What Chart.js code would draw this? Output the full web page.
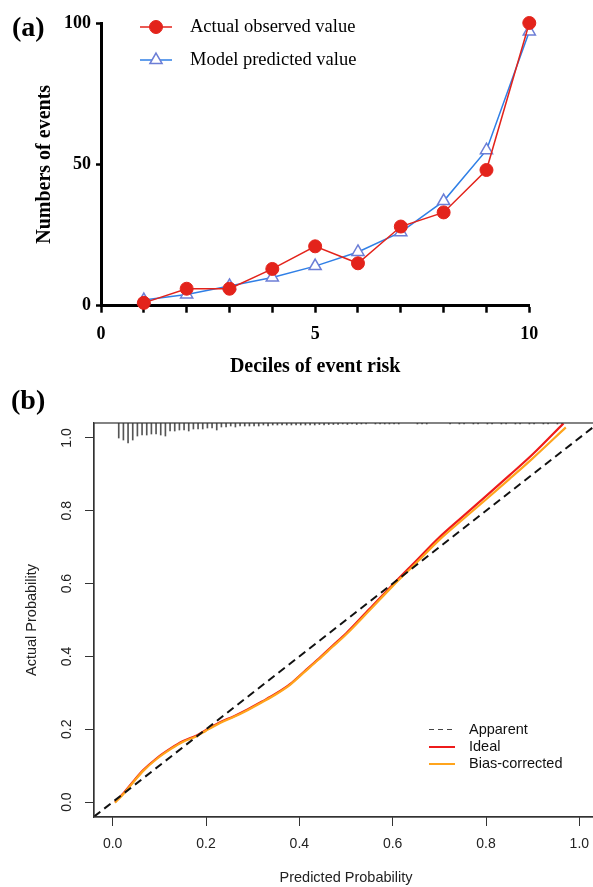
<!DOCTYPE html>
<html><head><meta charset="utf-8">
<script src="https://cdn.jsdelivr.net/npm/chart.js@4.4.1/dist/chart.umd.min.js"></script>
<style>
html,body{margin:0;padding:0;background:#fff;width:593px;height:887px;overflow:hidden;position:relative;}
canvas{position:absolute;left:0;}
.panel{position:absolute;font-family:'Liberation Serif','Times New Roman',serif;font-weight:bold;font-size:28px;line-height:32px;color:#000;}
</style></head><body>
<canvas id="cA" width="593" height="380" style="top:0"></canvas>
<canvas id="cB" width="620" height="507" style="top:380px"></canvas>
<div class="panel" style="left:12px;top:11px">(a)</div>
<div class="panel" style="left:11px;top:384px">(b)</div>
<script>
// ---------- Panel (a) data ----------
const deciles   = [1, 2, 3, 4, 5, 6, 7, 8, 9, 10];
const observed  = [1, 6, 6, 13, 21, 15, 28, 33, 48, 100];
const predicted = [2, 4, 7, 10, 14, 19, 26, 37, 55, 97];
const xTicksA   = [0, 1, 2, 3, 4, 5, 6, 7, 8, 9, 10];
const xLabelsA  = ['0', '', '', '', '', '5', '', '', '', '', '10'];
const yTicksA   = [0, 50, 100];

// ---------- Panel (b) data ----------
const idealX = [0.005,0.025,0.045,0.065,0.095,0.125,0.15,0.18,0.2,0.23,0.26,0.29,0.32,0.35,0.38,0.41,0.44,0.47,0.5,0.55,0.6,0.65,0.7,0.75,0.8,0.85,0.9,0.966];
const idealY = [0.0,0.027,0.058,0.087,0.121,0.148,0.167,0.183,0.198,0.219,0.236,0.255,0.276,0.298,0.324,0.358,0.392,0.428,0.463,0.53,0.597,0.662,0.727,0.784,0.84,0.897,0.955,1.04];
const biasX  = [0.005,0.025,0.045,0.065,0.095,0.125,0.15,0.18,0.2,0.23,0.26,0.29,0.32,0.35,0.38,0.41,0.44,0.47,0.5,0.55,0.6,0.65,0.7,0.75,0.8,0.85,0.9,0.971];
const biasY  = [-0.002,0.025,0.056,0.085,0.119,0.146,0.165,0.181,0.196,0.217,0.234,0.253,0.274,0.296,0.322,0.356,0.39,0.425,0.46,0.526,0.593,0.656,0.72,0.776,0.831,0.887,0.944,1.029];
const apparentX = [-0.04, 1.04];
const apparentY = [-0.04, 1.04];
const rugX = [0.013,0.023,0.033,0.043,0.053,0.063,0.073,0.083,0.093,0.103,0.113,0.123,0.133,0.143,0.153,0.163,0.173,0.183,0.193,0.203,0.213,0.223,0.233,0.243,0.253,0.263,0.273,0.283,0.293,0.303,0.313,0.323,0.333,0.343,0.353,0.363,0.373,0.383,0.393,0.403,0.413,0.423,0.433,0.443,0.453,0.463,0.473,0.483,0.493,0.503,0.513,0.523,0.533,0.543,0.563,0.573,0.583,0.593,0.603,0.613,0.653,0.663,0.673,0.723,0.743,0.753,0.773,0.783,0.803,0.813,0.833,0.843,0.863,0.873,0.893,0.903,0.923,0.933,0.953,0.963];
const rugFreq = [15,17,20,17,13,12,12,11,11,12,13,8,8,7,7,8,6,6,6,5,5,7,4,4,3,4,3,3,3,3,3,2,3,2,2,2,2,2,2,2,2,2,2,1.5,2,1.5,1.5,1.5,1,1.5,1,1.5,1,1,1,1,1,1,1,1,1,1,1,1,1,1,1,1,1,1,1,1,1,1,1,1,1,1,1,1];
const probTicks = [0, 0.2, 0.4, 0.6, 0.8, 1.0];

const serif = "'Liberation Serif','Times New Roman',serif";
const sans  = "'Liberation Sans',Arial,sans-serif";

// ---------- Panel (a) ----------
const legendA = {
  id: 'legendA',
  afterDatasetsDraw(chart) {
    const ctx = chart.ctx;
    const rows = [27, 60];
    chart.data.datasets.forEach((ds, i) => {
      const y = rows[i];
      ctx.save();
      ctx.strokeStyle = ds.borderColor; ctx.lineWidth = ds.borderWidth;
      ctx.beginPath(); ctx.moveTo(140, y); ctx.lineTo(172, y); ctx.stroke();
      ctx.fillStyle = ds.pointBackgroundColor; ctx.strokeStyle = ds.pointBorderColor; ctx.lineWidth = ds.pointBorderWidth;
      Chart.helpers.drawPoint(ctx, {pointStyle: ds.pointStyle, radius: ds.pointRadius, rotation: 0, borderWidth: ds.pointBorderWidth}, 156, y);
      ctx.fillStyle = '#000'; ctx.font = "18.5px " + serif; ctx.textBaseline = 'middle'; ctx.textAlign = 'left';
      ctx.fillText(ds.label, 190, y);
      ctx.restore();
    });
  }
};

new Chart(document.getElementById('cA'), {
  type: 'line',
  data: { datasets: [
    { label: 'Actual observed value', data: deciles.map((d, i) => ({x: d, y: observed[i]})),
      borderColor: '#e3231b', backgroundColor: '#e3231b', borderWidth: 1.5, tension: 0,
      pointStyle: 'circle', pointRadius: 6.5, pointBackgroundColor: '#e3231b', pointBorderColor: '#e3231b', pointBorderWidth: 1, clip: false },
    { label: 'Model predicted value', data: deciles.map((d, i) => ({x: d, y: predicted[i]})),
      borderColor: '#2f7fe6', backgroundColor: '#ffffff', borderWidth: 1.5, tension: 0,
      pointStyle: 'triangle', pointRadius: 7, pointBackgroundColor: '#ffffff', pointBorderColor: '#6c7ed6', pointBorderWidth: 1.5, clip: false }
  ]},
  options: {
    responsive: false, animation: false, events: [],
    layout: { padding: { left: 0, top: 23, right: 63.7, bottom: 0 } },
    plugins: { legend: { display: false }, tooltip: { enabled: false } },
    scales: {
      x: { type: 'linear', min: 0, max: 10, offset: false,
        afterBuildTicks: s => { s.ticks = xTicksA.map(v => ({value: v})); },
        afterFit: s => { s.height = 74.3; },
        grid: { offset: false, drawOnChartArea: false, drawTicks: true, tickLength: 7, tickWidth: 2.5, tickColor: '#000' },
        border: { display: true, width: 3, color: '#000' },
        ticks: { autoSkip: false, maxRotation: 0, padding: 11, color: '#000', font: { family: serif, size: 18, weight: 'bold' },
          callback: v => xLabelsA[xTicksA.indexOf(v)] },
        title: { display: true, text: 'Deciles of event risk', color: '#000', font: { family: serif, size: 20, weight: 'bold' }, padding: { top: 0, bottom: 1 } }
      },
      y: { type: 'linear', min: 0, max: 100,
        afterBuildTicks: s => { s.ticks = yTicksA.map(v => ({value: v})); },
        afterFit: s => { s.width = 101; },
        grid: { drawOnChartArea: false, drawTicks: true, tickLength: 5, tickWidth: 2.5, tickColor: '#000' },
        border: { display: true, width: 3, color: '#000' },
        ticks: { padding: 5, color: '#000', font: { family: serif, size: 18, weight: 'bold' } },
        title: { display: true, text: 'Numbers of events', color: '#000', font: { family: serif, size: 20, weight: 'bold' }, padding: { top: 33, bottom: 0 } }
      }
    }
  },
  plugins: [legendA]
});

// ---------- Panel (b) ----------
const boxB = {
  id: 'boxB',
  afterDatasetsDraw(chart) {
    const {ctx, chartArea: a} = chart;
    ctx.save(); ctx.strokeStyle = '#333'; ctx.lineWidth = 1.2;
    ctx.strokeRect(a.left, a.top, a.right - a.left, a.bottom - a.top);
    ctx.restore();
  }
};
const legendB = {
  id: 'legendB',
  afterDraw(chart) {
    const ctx = chart.ctx;
    const items = [
      { text: 'Apparent', ds: 0, y: 349.5, dash: [5, 4], w: 1 },
      { text: 'Ideal', ds: 2, y: 367, dash: [], w: 2 },
      { text: 'Bias-corrected', ds: 1, y: 384, dash: [], w: 2 }
    ];
    items.forEach(it => {
      const ds = chart.data.datasets[it.ds];
      ctx.save();
      ctx.strokeStyle = it.ds === 0 ? '#444' : ds.borderColor; ctx.lineWidth = it.w; ctx.setLineDash(it.dash);
      ctx.beginPath(); ctx.moveTo(429, it.y); ctx.lineTo(455, it.y); ctx.stroke();
      ctx.setLineDash([]);
      ctx.fillStyle = '#111'; ctx.font = "14.5px " + sans; ctx.textBaseline = 'middle'; ctx.textAlign = 'left';
      ctx.fillText(it.text, 469, it.y);
      ctx.restore();
    });
  }
};

const rugTop = 1.041, rugUnit = 0.00275;
new Chart(document.getElementById('cB'), {
  type: 'line',
  data: { datasets: [
    { label: 'Apparent', data: apparentX.map((x, i) => ({x, y: apparentY[i]})), borderColor: '#111', borderWidth: 2, borderDash: [8, 5], pointRadius: 0, tension: 0 },
    { label: 'Bias-corrected', data: biasX.map((x, i) => ({x, y: biasY[i]})), borderColor: '#ffa41c', borderWidth: 2.2, pointRadius: 0, cubicInterpolationMode: 'monotone' },
    { label: 'Ideal', data: idealX.map((x, i) => ({x, y: idealY[i]})), borderColor: '#ee1b1b', borderWidth: 2.2, pointRadius: 0, cubicInterpolationMode: 'monotone' },
    { type: 'bar', label: 'rug', data: rugX.map((x, i) => ({x, y: [rugTop - rugFreq[i] * rugUnit, rugTop]})),
      backgroundColor: '#555', borderWidth: 0, barThickness: 1, grouped: false }
  ]},
  options: {
    responsive: false, animation: false, events: [],
    layout: { padding: { left: 0, top: 43, right: 22, bottom: 0 } },
    plugins: { legend: { display: false }, tooltip: { enabled: false } },
    scales: {
      x: { type: 'linear', min: -0.04, max: 1.04, offset: false,
        afterBuildTicks: s => { s.ticks = probTicks.map(v => ({value: v})); },
        afterFit: s => { s.height = 70; },
        grid: { offset: false, drawOnChartArea: false, drawTicks: true, tickLength: 9, tickWidth: 1, tickColor: '#333' },
        border: { display: true, width: 1.2, color: '#333' },
        ticks: { autoSkip: false, maxRotation: 0, padding: 10, color: '#222', font: { family: sans, size: 14 }, callback: v => v.toFixed(1) },
        title: { display: true, text: 'Predicted Probability', color: '#222', font: { family: sans, size: 14.5 }, padding: { top: 0, bottom: 0 } }
      },
      y: { type: 'linear', min: -0.041, max: 1.041,
        afterBuildTicks: s => { s.ticks = probTicks.map(v => ({value: v})); },
        afterFit: s => { s.width = 94; },
        grid: { offset: false, drawOnChartArea: false, drawTicks: true, tickLength: 9, tickWidth: 1, tickColor: '#333' },
        border: { display: true, width: 1.2, color: '#333' },
        ticks: { minRotation: 90, maxRotation: 90, crossAlign: 'center', padding: 8, color: '#222', font: { family: sans, size: 14 }, callback: v => v.toFixed(1) },
        title: { display: true, text: 'Actual Probability', color: '#222', font: { family: sans, size: 14.5 }, padding: { top: 23, bottom: 0 } }
      }
    }
  },
  plugins: [boxB, legendB]
});
</script>
</body></html>
